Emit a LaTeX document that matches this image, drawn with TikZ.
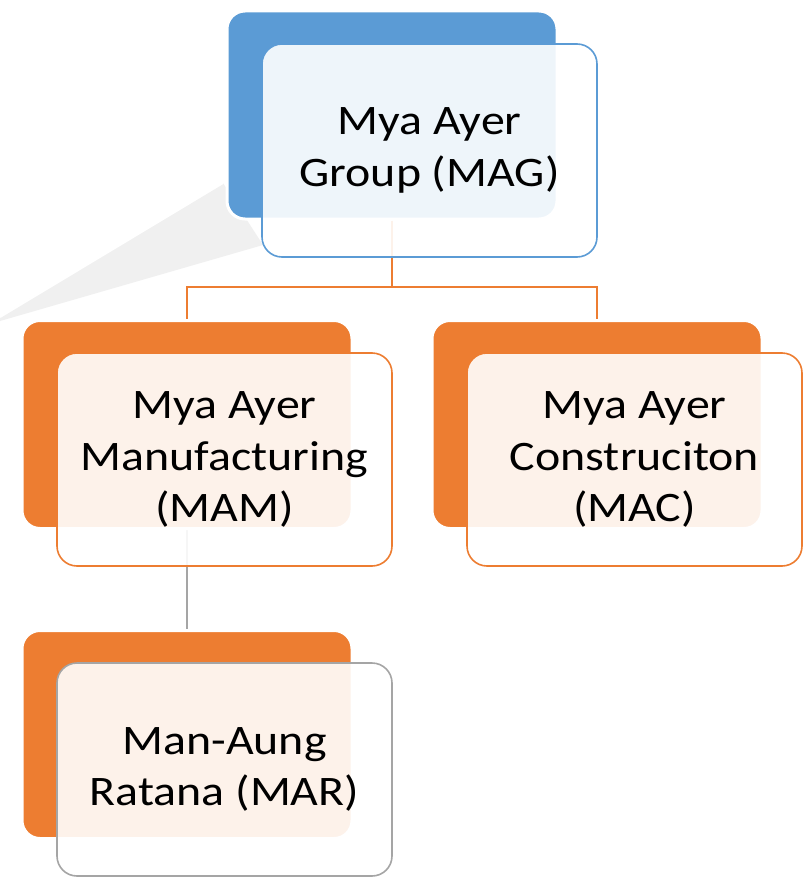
\documentclass[tikz,border=0pt]{standalone}
\usepackage{fontspec}
\setmainfont{Carlito}[FakeStretch=1.14]
\usepackage{tikz}
\usetikzlibrary{backgrounds}

\definecolor{mablue}{HTML}{5B9BD5}
\definecolor{maorange}{HTML}{ED7D31}
\definecolor{magray}{HTML}{A5A5A5}

\begin{document}
\begin{tikzpicture}
			[x=1pt,y=-1pt,
			every node/.style={rectangle,rounded corners=18pt,inner sep=0pt},
			backbox/.style={minimum width=330pt,minimum height=208pt,draw=white,line width=3pt},
			frontbox/.style={minimum width=335pt,minimum height=213pt,rounded corners=20pt,line width=1.6pt,
				fill=white,fill opacity=0.9,text opacity=1,align=center,
				font=\fontsize{42}{51.5}\selectfont},
			link/.style={line width=1.8pt}]
			\useasboundingbox (0,0) rectangle (807,880);
			
			\node[backbox,fill=mablue] (magb) at (392,115) {};
			\node[backbox,fill=maorange] (mamb) at (187,424.5) {};
			\node[backbox,fill=maorange] (macb) at (597,424.5) {};
			\node[backbox,fill=maorange] (marb) at (187,734.5) {};
			\coordinate (split) at (392,287);
			
			\begin{scope}[on background layer]
			\fill[white] (0,0) rectangle (807,880);
			% faint wedge behind the top box
			\fill[black!6] (0,317) -- (223,183) -- (263,245) -- (0,321) -- cycle;
			\draw[white,line width=2pt] (0,317) -- (223,183);
			\draw[link,maorange] (magb.south) -- (split) -| (mamb.north);
			\draw[link,maorange] (split) -| (macb.north);
			\draw[link,magray] (mamb.south) -- (marb.north);
			\end{scope}
			
			\node[frontbox,draw=mablue] (magf) at (429.5,150.5) {Mya Ayer\\Group (MAG)};
			\node[frontbox,draw=maorange] (mamf) at (224.5,459.5) {Mya Ayer\\Manufacturing\\(MAM)};
			\node[frontbox,draw=maorange] (macf) at (634.5,459.5) {Mya Ayer\\Construciton\\(MAC)};
			\node[frontbox,draw=magray] (marf) at (224.5,769.5) {Man-Aung\\Ratana (MAR)};
			
			\end{tikzpicture}
\end{document}
